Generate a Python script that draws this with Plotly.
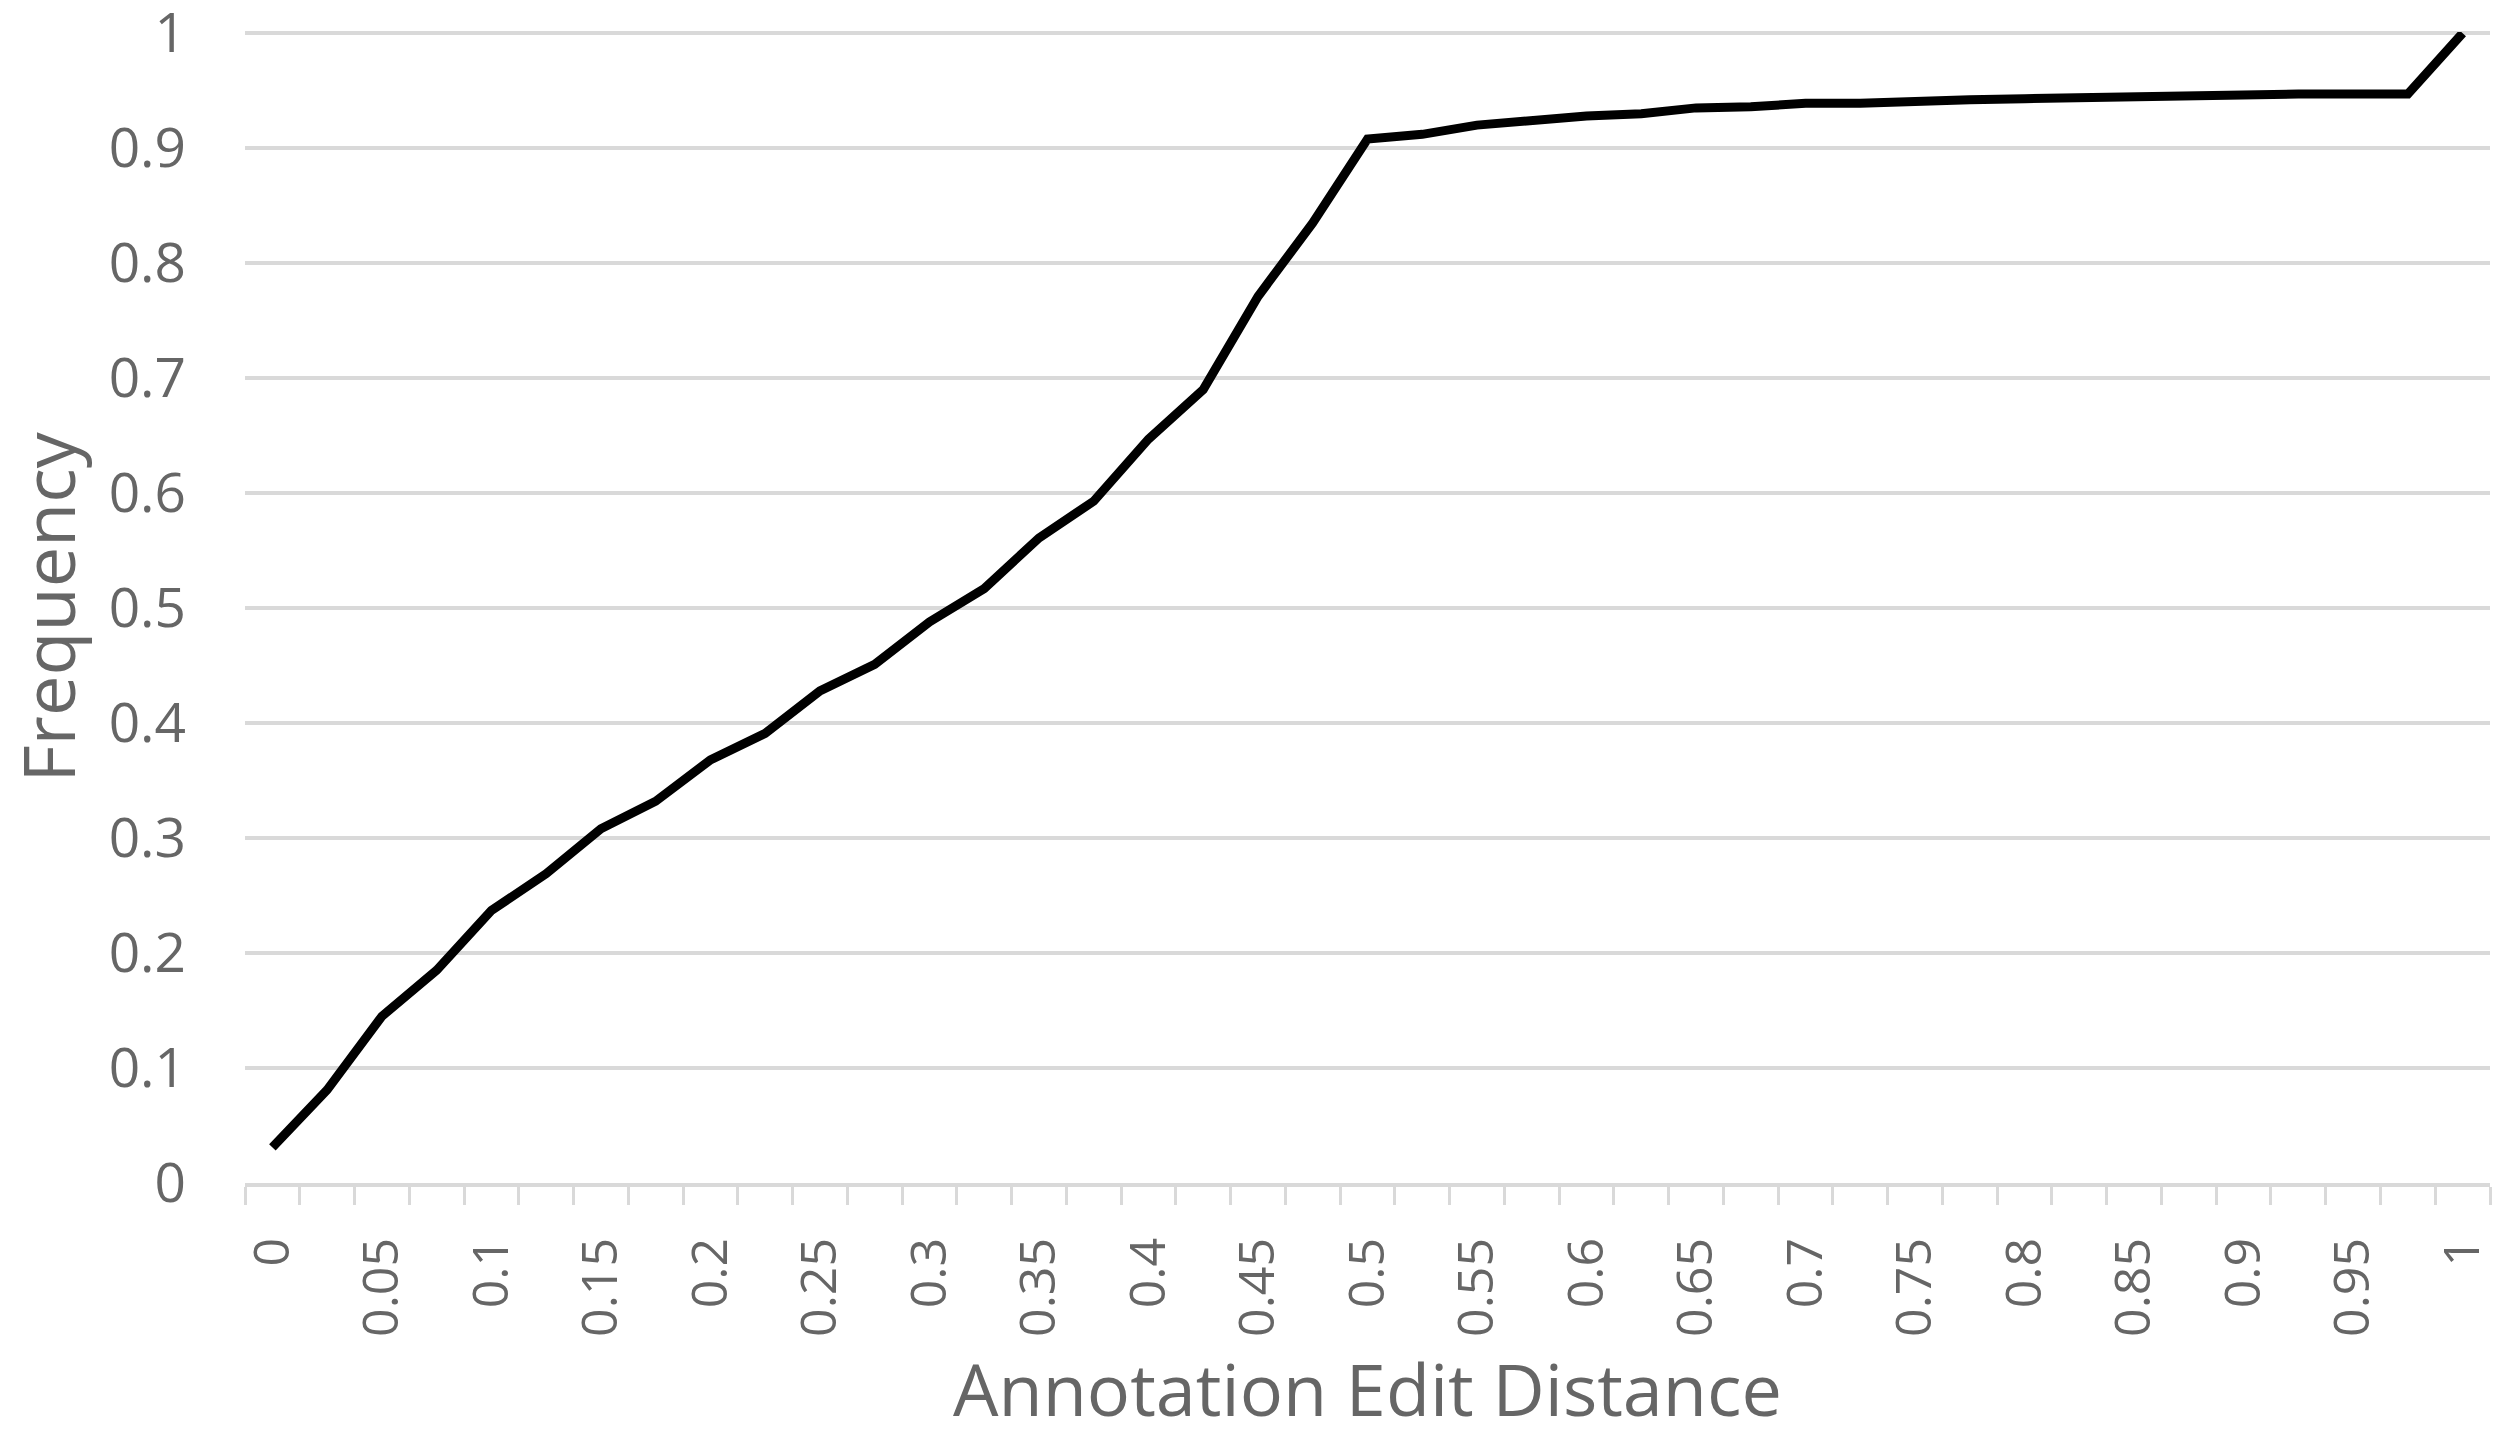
import plotly.graph_objects as go

# Category values (annotation edit distance, step 0.025)
edit_distance = [round(i * 0.025, 3) for i in range(41)]
frequency = [
    0.031, 0.081, 0.145, 0.185, 0.237, 0.269, 0.308, 0.332, 0.368, 0.391,
    0.428, 0.451, 0.488, 0.517, 0.561, 0.593, 0.647, 0.690, 0.771, 0.835,
    0.908, 0.912, 0.920, 0.924, 0.928, 0.930, 0.935, 0.936, 0.939, 0.939,
    0.941, 0.942, 0.943, 0.944, 0.944, 0.946, 0.947, 0.947, 0.947, 0.947,
    1.000,
]
x_tick_values = [round(i * 0.05, 2) for i in range(21)]
x_tick_labels = [f"{v:g}" for v in x_tick_values]
x_boundaries = [round(-0.0125 + i * 0.025, 4) for i in range(42)]
y_tick_values = [round(i * 0.1, 1) for i in range(11)]
y_tick_labels = [f"{v:g}" for v in y_tick_values]
x_title = "Annotation Edit Distance"
y_title = "Frequency"

FONT = "Open Sans"
GREY = "#666666"
LIGHT = "#d9d9d9"

fig = go.Figure()
fig.add_trace(go.Scatter(
    x=edit_distance, y=frequency, mode="lines",
    line=dict(color="black", width=9),
    showlegend=False, hoverinfo="x+y",
))

fig.update_layout(
    width=2500, height=1429,
    paper_bgcolor="white", plot_bgcolor="white",
    margin=dict(l=237, r=18, t=24, b=254, autoexpand=False),
    font=dict(family=FONT, color=GREY),
)

fig.update_xaxes(
    range=[-0.0125, 1.0125],
    tickmode="array", tickvals=x_tick_values, ticktext=x_tick_labels,
    tickangle=-90, tickfont=dict(size=50, color=GREY, family=FONT),
    ticks="outside", ticklen=31, tickcolor="rgba(0,0,0,0)",
    showgrid=False, zeroline=False,
    showline=True, linecolor=LIGHT, linewidth=4,
    minor=dict(tickmode="array", tickvals=x_boundaries, ticks="outside",
               ticklen=18, tickwidth=3, tickcolor=LIGHT, showgrid=False),
    title=dict(text=x_title,
               font=dict(size=72, color=GREY, family=FONT), standoff=32),
)

fig.update_yaxes(
    range=[0, 1.001],
    tickmode="array", tickvals=y_tick_values, ticktext=y_tick_labels,
    ticklabeloverflow="allow",
    tickfont=dict(size=55, color=GREY, family=FONT),
    ticks="outside", ticklen=47, tickcolor="rgba(0,0,0,0)",
    showgrid=True, gridcolor=LIGHT, gridwidth=4,
    zeroline=False, showline=False,
)

fig.add_annotation(
    text=y_title, textangle=-90, showarrow=False,
    xref="paper", yref="paper", x=-0.0886, y=0.5,
    xanchor="center", yanchor="middle",
    font=dict(size=72, color=GREY, family=FONT),
)

fig.write_html("out.html")
